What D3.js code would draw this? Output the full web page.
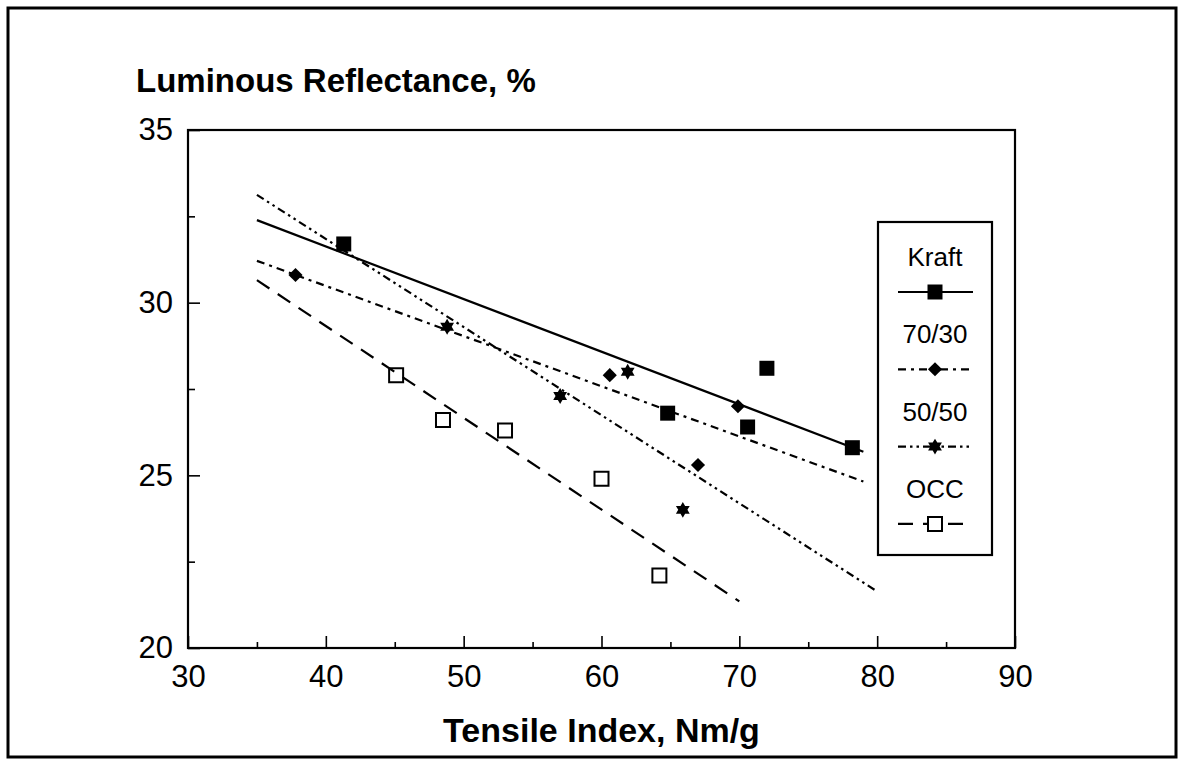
<!DOCTYPE html>
<html>
<head>
<meta charset="utf-8">
<script src="https://cdn.jsdelivr.net/npm/d3@7"></script>
<style>
  body { margin: 0; background: #fff; }
  svg { display: block; }
  text { font-family: "Liberation Sans", Arial, sans-serif; fill: #000; }
</style>
</head>
<body>
<svg id="chart" width="1178" height="760"></svg>
<script>
// Measured points: tensile index (Nm/g) vs luminous reflectance (%)
const kraftX = [41.3, 64.8, 70.6, 72.0, 78.2];
const kraftY = [31.7, 26.8, 26.4, 28.1, 25.8];
const blend7030X = [37.8, 60.6, 67.0, 69.9];
const blend7030Y = [30.8, 27.9, 25.3, 27.0];
const blend5050X = [48.8, 57.0, 61.9, 65.9];
const blend5050Y = [29.3, 27.3, 28.0, 24.0];
const occX = [45.1, 48.5, 53.0, 60.0, 64.2];
const occY = [27.9, 26.6, 26.3, 24.9, 22.1];

// Extent of each fitted trend line along the x axis
const kraftFitRange = [35, 79];
const blend7030FitRange = [35, 79];
const blend5050FitRange = [35, 80];
const occFitRange = [35, 70];

const seriesNames = ["Kraft", "70/30", "50/50", "OCC"];
const xMajorTicks = [30, 40, 50, 60, 70, 80, 90];
const xMinorTicks = [35, 45, 55, 65, 75, 85];
const yMajorTicks = [20, 25, 30, 35];
const yMinorTicks = [22.5, 27.5, 32.5];
const yTitle = "Luminous Reflectance, %";
const xTitle = "Tensile Index, Nm/g";

const svg = d3.select("#chart");
const x = d3.scaleLinear().domain([30, 90]).range([188, 1015]);
const y = d3.scaleLinear().domain([20, 35]).range([648, 130]);

// Outer frame around the whole figure
svg.append("rect")
  .attr("x", 8).attr("y", 8).attr("width", 1168).attr("height", 749)
  .attr("fill", "none").attr("stroke", "#000").attr("stroke-width", 3);

// Six-pointed star marker
const symbolHexagram = {
  draw(ctx, size) {
    const R = Math.sqrt(size) / 2 * 1.1;
    const r = R / Math.sqrt(3);
    for (let i = 0; i < 12; i++) {
      const a = -Math.PI / 2 + i * Math.PI / 6;
      const rad = i % 2 === 0 ? R : r;
      const px = rad * Math.cos(a), py = rad * Math.sin(a);
      if (i === 0) ctx.moveTo(px, py); else ctx.lineTo(px, py);
    }
    ctx.closePath();
  }
};

const styles = {
  "Kraft": { dash: null, symbol: d3.symbolSquare, size: 225, rotate: 0, fill: "#000", stroke: "none" },
  "70/30": { dash: "8,5,3,5", symbol: d3.symbolSquare, size: 100, rotate: 45, fill: "#000", stroke: "none" },
  "50/50": { dash: "8,4,2.5,4,2.5,4", symbol: symbolHexagram, size: 210, rotate: 0, fill: "#000", stroke: "none" },
  "OCC": { dash: "15,10", symbol: d3.symbolSquare, size: 196, rotate: 0, fill: "none", stroke: "#000" }
};

const series = [
  { name: "Kraft", xs: kraftX, ys: kraftY, range: kraftFitRange },
  { name: "70/30", xs: blend7030X, ys: blend7030Y, range: blend7030FitRange },
  { name: "50/50", xs: blend5050X, ys: blend5050Y, range: blend5050FitRange },
  { name: "OCC", xs: occX, ys: occY, range: occFitRange }
];

// Least-squares straight line through a series
function linearFit(xs, ys) {
  const mx = d3.mean(xs), my = d3.mean(ys);
  let sxy = 0, sxx = 0;
  xs.forEach((v, i) => { sxy += (v - mx) * (ys[i] - my); sxx += (v - mx) * (v - mx); });
  const slope = sxy / sxx;
  return t => my + slope * (t - mx);
}

// Axes: ticks point inward, frame drawn on all four sides
function styleAxis(g) {
  g.select(".domain").remove();
  g.selectAll(".tick line").attr("stroke", "#000").attr("stroke-width", 1.6);
  g.selectAll(".tick text").attr("font-size", 31).attr("font-family", "Liberation Sans, Arial, sans-serif");
}

svg.append("g").attr("transform", `translate(0,${y(20)})`)
  .call(d3.axisBottom(x).tickValues(xMajorTicks).tickSize(-12).tickPadding(17).tickFormat(d3.format("d")))
  .call(styleAxis);
svg.append("g").attr("transform", `translate(0,${y(20)})`)
  .call(d3.axisBottom(x).tickValues(xMinorTicks).tickSize(-6).tickFormat(""))
  .call(styleAxis);
svg.append("g").attr("transform", `translate(${x(30)},0)`)
  .call(d3.axisLeft(y).tickValues(yMajorTicks).tickSize(-12).tickPadding(15).tickFormat(d3.format("d")))
  .call(styleAxis);
svg.append("g").attr("transform", `translate(${x(30)},0)`)
  .call(d3.axisLeft(y).tickValues(yMinorTicks).tickSize(-7).tickFormat(""))
  .call(styleAxis);

svg.append("rect")
  .attr("x", x(30)).attr("y", y(35))
  .attr("width", x(90) - x(30)).attr("height", y(20) - y(35))
  .attr("fill", "none").attr("stroke", "#000").attr("stroke-width", 2.2);

// Trend lines
const line = d3.line().x(d => x(d[0])).y(d => y(d[1]));
series.forEach(s => {
  const f = linearFit(s.xs, s.ys);
  const st = styles[s.name];
  svg.append("path")
    .datum(s.range.map(t => [t, f(t)]))
    .attr("d", line)
    .attr("fill", "none").attr("stroke", "#000").attr("stroke-width", 2.2)
    .attr("stroke-dasharray", st.dash);
});

// Data markers
series.forEach(s => {
  const st = styles[s.name];
  svg.append("g").selectAll("path")
    .data(s.xs.map((v, i) => [v, s.ys[i]]))
    .join("path")
    .attr("d", d3.symbol().type(st.symbol).size(st.size))
    .attr("transform", d => `translate(${x(d[0])},${y(d[1])}) rotate(${st.rotate})`)
    .attr("fill", st.fill).attr("stroke", st.stroke).attr("stroke-width", 2);
});

// Legend
const lg = svg.append("g");
lg.append("rect").attr("x", 878).attr("y", 222).attr("width", 114).attr("height", 333)
  .attr("fill", "#fff").attr("stroke", "#000").attr("stroke-width", 2.2);
seriesNames.forEach((name, i) => {
  const st = styles[name];
  const ty = 266 + 77.3 * i;
  const sy = 292 + 77.3 * i;
  lg.append("text").attr("x", 935).attr("y", ty).attr("text-anchor", "middle")
    .attr("font-size", 26).text(name);
  lg.append("line").attr("x1", 898).attr("x2", 973).attr("y1", sy).attr("y2", sy)
    .attr("stroke", "#000").attr("stroke-width", 2.2).attr("stroke-dasharray", st.dash);
  lg.append("path")
    .attr("d", d3.symbol().type(st.symbol).size(st.size)())
    .attr("transform", `translate(935,${sy}) rotate(${st.rotate})`)
    .attr("fill", st.fill === "none" ? "#fff" : st.fill).attr("stroke", st.stroke).attr("stroke-width", 2);
});

// Titles
svg.append("text").attr("x", 136).attr("y", 92)
  .attr("font-size", 33).attr("font-weight", "bold").text(yTitle);
svg.append("text").attr("x", (x(30) + x(90)) / 2).attr("y", 742).attr("text-anchor", "middle")
  .attr("font-size", 34).attr("font-weight", "bold").text(xTitle);
</script>
</body>
</html>
